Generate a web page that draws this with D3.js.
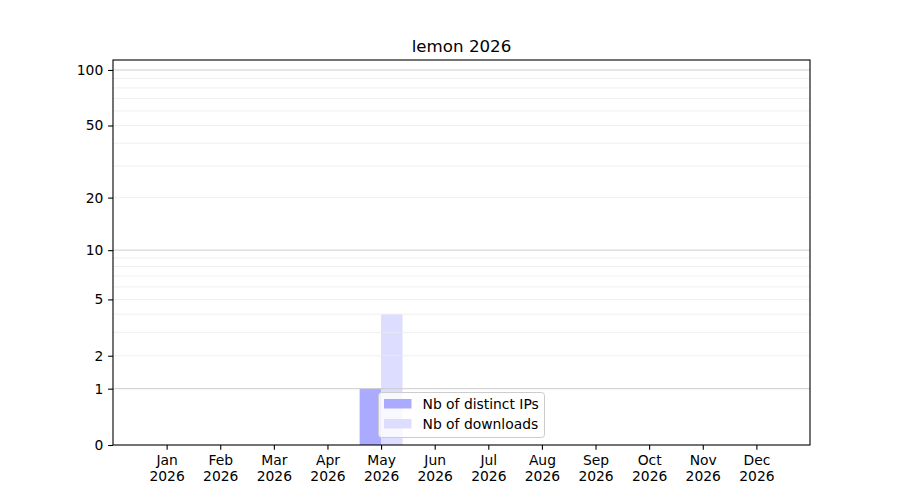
<!DOCTYPE html>
<html><head><meta charset="utf-8">
<script src="https://cdn.jsdelivr.net/npm/d3@7"></script>
<style>body{margin:0;background:#fff}text{font-family:"DejaVu Sans",sans-serif;}</style>
</head><body><svg id="c" width="900" height="500"></svg>
<script>
const title = "lemon 2026";
const months = ["Jan","Feb","Mar","Apr","May","Jun","Jul","Aug","Sep","Oct","Nov","Dec"];
const year = "2026";
const distinctIPs = [0,0,0,0,1,0,0,0,0,0,0,0];
const downloads = [0,0,0,0,4,0,0,0,0,0,0,0];
const yTicks = [0,1,2,5,10,20,50,100];
const yMinor = [3,4,6,7,8,9,30,40,60,70,80,90];
const yMajorGrid = [1,10,100];
const yMax = 113.2;

const svg = d3.select("#c");
const L=113,R=810,T=60,B=445;
const fs = "13.89px";
const x = d3.scaleLinear().domain([-1,12]).range([L,R]);
const ly = d3.scaleLinear().domain([0,Math.log1p(yMax)]).range([B,T]);
const y = v => ly(Math.log1p(v));

// bars
const bw = 0.4;
svg.append("g").selectAll("rect").data(distinctIPs).join("rect")
  .attr("x",(d,i)=>x(i-bw)).attr("width",x(bw)-x(0))
  .attr("y",d=>y(d)).attr("height",d=>B-y(d)).attr("fill","#aaaaff");
svg.append("g").selectAll("rect").data(downloads).join("rect")
  .attr("x",(d,i)=>x(i)).attr("width",x(bw)-x(0))
  .attr("y",d=>y(d)).attr("height",d=>B-y(d)).attr("fill","#ddddff");

// grid
const grid = svg.append("g");
yMinor.concat([2,5,20,50]).forEach(v=>{
  grid.append("line").attr("x1",L).attr("x2",R).attr("y1",y(v)).attr("y2",y(v))
    .attr("stroke","#ebebeb").attr("stroke-width",0.8);
});
yMajorGrid.forEach(v=>{
  grid.append("line").attr("x1",L).attr("x2",R).attr("y1",y(v)).attr("y2",y(v))
    .attr("stroke","#cccccc").attr("stroke-width",1);
});

// axes
const yAxis = d3.axisLeft(d3.scaleLinear().domain(ly.domain()).range(ly.range()))
  .tickValues(yTicks.map(v=>Math.log1p(v))).tickFormat((d,i)=>yTicks[i]).tickSize(4.86).tickPadding(4.86);
const gy = svg.append("g").attr("transform",`translate(${L},0)`).call(yAxis);
const xAxis = d3.axisBottom(x).tickValues(d3.range(12)).tickFormat(()=>"").tickSize(4.86);
const gx = svg.append("g").attr("transform",`translate(0,${B})`).call(xAxis);
[gx,gy].forEach(g=>{g.select(".domain").remove();g.selectAll("line").attr("stroke","#000").attr("stroke-width",1.1);
  g.selectAll("text").attr("font-size",fs).attr("fill","#000").attr("font-family","DejaVu Sans");});
gx.selectAll(".tick").each(function(d){
  const t=d3.select(this).select("text").attr("y",6.5).attr("dy",0);
  t.append("tspan").attr("x",0).attr("dy","0.95em").text(months[d]);
  t.append("tspan").attr("x",0).attr("dy","1.15em").text(year);
});
svg.append("rect").attr("x",L).attr("y",T).attr("width",R-L).attr("height",B-T)
  .attr("fill","none").attr("stroke","#000").attr("stroke-width",1.1);

svg.append("text").attr("x",(L+R)/2).attr("y",T-8).attr("text-anchor","middle")
  .attr("font-size","16.67px").text(title);

// legend
const lg = svg.append("g").attr("transform","translate(378.5,392.5)");
lg.append("rect").attr("width",166).attr("height",45).attr("rx",3)
  .attr("fill","rgba(255,255,255,0.8)").attr("stroke","#cccccc").attr("stroke-width",1);
[["Nb of distinct IPs","#aaaaff"],["Nb of downloads","#ddddff"]].forEach((e,i)=>{
  lg.append("rect").attr("x",5.5).attr("y",6.5+i*20).attr("width",27.5).attr("height",9.5).attr("fill",e[1]);
  lg.append("text").attr("x",44).attr("y",16.5+i*20).attr("font-size",fs).text(e[0]);
});
</script></body></html>
